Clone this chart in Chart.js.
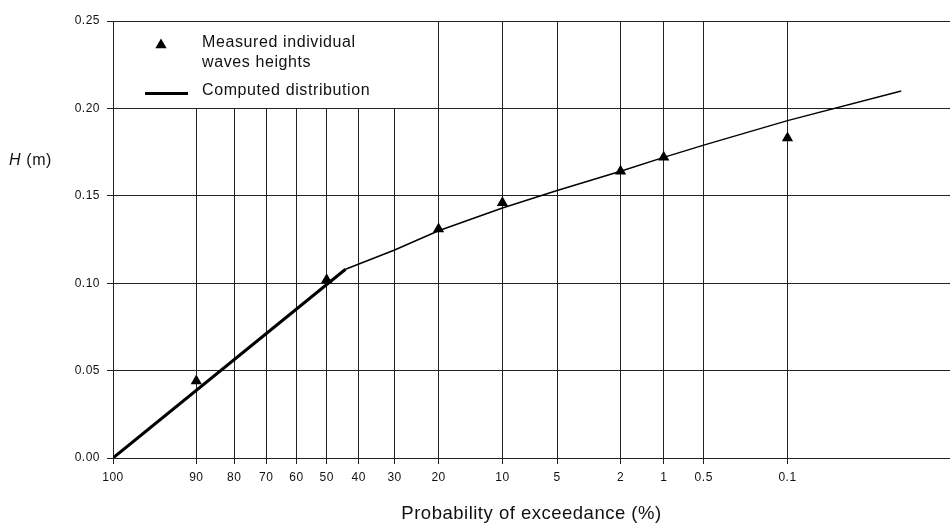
<!DOCTYPE html>
<html>
<head>
<meta charset="utf-8">
<title>Wave height exceedance</title>
<script src="https://cdn.jsdelivr.net/npm/chart.js@4.4.1/dist/chart.umd.min.js"></script>
<style>
  html, body { margin: 0; padding: 0; background: #fff; }
  canvas { display: block; }
</style>
</head>
<body>
<canvas id="chart" width="950" height="526"></canvas>
<script>
// Probability of exceedance axis (%), drawn on Rayleigh probability paper
const probabilityTicks = [100, 90, 80, 70, 60, 50, 40, 30, 20, 10, 5, 2, 1, 0.5, 0.1];
const probabilityLabels = ['100', '90', '80', '70', '60', '50', '40', '30', '20', '10', '5', '2', '1', '0.5', '0.1'];
const probabilityRange = [100, 0.0024];

// Wave height axis (m)
const heightTicks = [0, 0.05, 0.10, 0.15, 0.20, 0.25];
const heightLabels = ['0.00', '0.05', '0.10', '0.15', '0.20', '0.25'];

// Measured individual wave heights
const measuredProbability = [90, 50, 20, 10, 2, 1, 0.1];
const measuredHeight = [0.044, 0.102, 0.131, 0.146, 0.164, 0.172, 0.183];

// Computed distribution: lower part and upper part
const lowerProbability = [100, 44];
const lowerHeight = [0, 0.108];
const upperProbability = [44, 30, 20, 10, 5, 2, 1, 0.5, 0.1, 0.008];
const upperHeight = [0.108, 0.119, 0.130, 0.143, 0.153, 0.164, 0.172, 0.179, 0.193, 0.210];

// Text
const measuredLegend = ['Measured individual', 'waves heights'];
const computedLegend = 'Computed distribution';
const xTitle = 'Probability of exceedance (%)';
const yTitleSymbol = 'H';
const yTitleUnit = ' (m)';

const FONT = '"Liberation Sans", Arial, Helvetica, sans-serif';
const INK = '#111';
const GRID = '#222';

// Rayleigh paper coordinate: sqrt(-ln P)
const rayleighCoord = p => Math.sqrt(-Math.log(p / 100));

class ExceedanceScale extends Chart.Scale {
  static id = 'exceedance';
  static defaults = {};
  parse(raw) {
    return raw === null || raw === undefined ? null : +raw;
  }
  determineDataLimits() {
    const { min, max } = this.getUserBounds();
    this.min = min;
    this.max = max;
  }
  buildTicks() {
    return probabilityTicks.map(value => ({ value }));
  }
  getLabelForValue(value) {
    return String(value);
  }
  configure() {
    super.configure();
    this._startValue = rayleighCoord(this.min);
    this._valueRange = rayleighCoord(this.max) - this._startValue;
  }
  getPixelForValue(value) {
    if (value === null || isNaN(value)) return NaN;
    return this.getPixelForDecimal((rayleighCoord(value) - this._startValue) / this._valueRange);
  }
  getValueForPixel(pixel) {
    const u = this._startValue + this.getDecimalForPixel(pixel) * this._valueRange;
    return 100 * Math.exp(-u * u);
  }
}
Chart.register(ExceedanceScale);

const toPoints = (xs, ys) => xs.map((x, i) => ({ x, y: ys[i] }));

// Letter spacing for the library-drawn text
const spacingPlugin = {
  id: 'spacing',
  beforeDraw(chart) {
    chart.ctx.letterSpacing = '0.5px';
  }
};

// Legend box in the upper-left panel of the grid, plus the H (m) caption
const legendPanel = {
  id: 'legendPanel',
  beforeDatasetsDraw(chart) {
    const { ctx, chartArea, scales } = chart;
    const left = chartArea.left, top = chartArea.top;
    const xEdge = Math.floor(scales.x.getPixelForValue(20));
    const yEdge = Math.floor(scales.y.getPixelForValue(0.20));
    ctx.save();
    ctx.fillStyle = '#fff';
    ctx.fillRect(left + 1, top + 1, xEdge - left - 1, yEdge - top - 1);

    // triangle marker
    Chart.helpers.drawPoint(ctx, { pointStyle: 'triangle', radius: 6.5, borderWidth: 0 }, left + 48, top + 24);
    ctx.fillStyle = '#000';
    ctx.fill();

    // line sample
    ctx.beginPath();
    ctx.moveTo(left + 32, top + 72.5);
    ctx.lineTo(left + 75, top + 72.5);
    ctx.lineWidth = 3;
    ctx.strokeStyle = '#000';
    ctx.stroke();

    ctx.letterSpacing = '0.6px';
    ctx.font = '16px ' + FONT;
    ctx.fillStyle = INK;
    ctx.textAlign = 'left';
    ctx.textBaseline = 'alphabetic';
    ctx.fillText(measuredLegend[0], left + 89, top + 25.5);
    ctx.fillText(measuredLegend[1], left + 89, top + 46);
    ctx.fillText(computedLegend, left + 89, top + 74);
    ctx.restore();
  },
  afterDraw(chart) {
    const { ctx } = chart;
    ctx.save();
    ctx.letterSpacing = '0.6px';
    ctx.fillStyle = INK;
    ctx.textAlign = 'left';
    ctx.textBaseline = 'alphabetic';
    ctx.font = 'italic 16px ' + FONT;
    ctx.fillText(yTitleSymbol, 9, 165);
    const w = ctx.measureText(yTitleSymbol).width;
    ctx.font = '16px ' + FONT;
    ctx.fillText(yTitleUnit, 9 + w, 165);
    ctx.restore();
  }
};

new Chart(document.getElementById('chart'), {
  type: 'scatter',
  data: {
    datasets: [
      {
        label: measuredLegend.join(' '),
        data: toPoints(measuredProbability, measuredHeight),
        pointStyle: 'triangle',
        pointRadius: 6.5,
        pointBorderWidth: 0,
        backgroundColor: '#000',
        borderColor: '#000',
        showLine: false
      },
      {
        label: computedLegend,
        data: toPoints(lowerProbability, lowerHeight),
        showLine: true,
        borderColor: '#000',
        borderWidth: 3,
        pointRadius: 0
      },
      {
        label: computedLegend,
        data: toPoints(upperProbability, upperHeight),
        showLine: true,
        borderColor: '#000',
        borderWidth: 1.5,
        pointRadius: 0
      }
    ]
  },
  options: {
    responsive: false,
    animation: false,
    devicePixelRatio: 1,
    layout: { autoPadding: false, padding: { top: 21, right: 0, bottom: 0, left: 0 } },
    plugins: {
      legend: { display: false },
      tooltip: { enabled: false }
    },
    scales: {
      x: {
        type: 'exceedance',
        min: probabilityRange[0],
        max: probabilityRange[1],
        afterFit(scale) {
          scale.height = 68;
          scale.paddingLeft = 0;
          scale.paddingRight = 0;
        },
        grid: { color: GRID, lineWidth: 1, tickLength: 6, tickColor: GRID },
        border: { display: true, color: GRID, width: 1 },
        ticks: {
          autoSkip: false,
          maxRotation: 0,
          padding: 6,
          color: INK,
          font: { family: FONT, size: 12 },
          callback: (value, index) => probabilityLabels[index]
        },
        title: {
          display: true,
          text: xTitle,
          color: INK,
          font: { family: FONT, size: 18.5 },
          padding: { top: 0, bottom: 1 }
        }
      },
      y: {
        type: 'linear',
        min: 0,
        max: 0.25,
        afterBuildTicks(scale) { scale.ticks = heightTicks.map(value => ({ value })); },
        afterFit(scale) { scale.width = 113; },
        grid: { color: GRID, lineWidth: 1, tickLength: 6, tickColor: GRID },
        border: { display: true, color: GRID, width: 1 },
        ticks: {
          padding: 7,
          color: INK,
          font: { family: FONT, size: 12 },
          callback: (value, index) => heightLabels[index]
        }
      }
    }
  },
  plugins: [spacingPlugin, legendPanel]
});
</script>
</body>
</html>
